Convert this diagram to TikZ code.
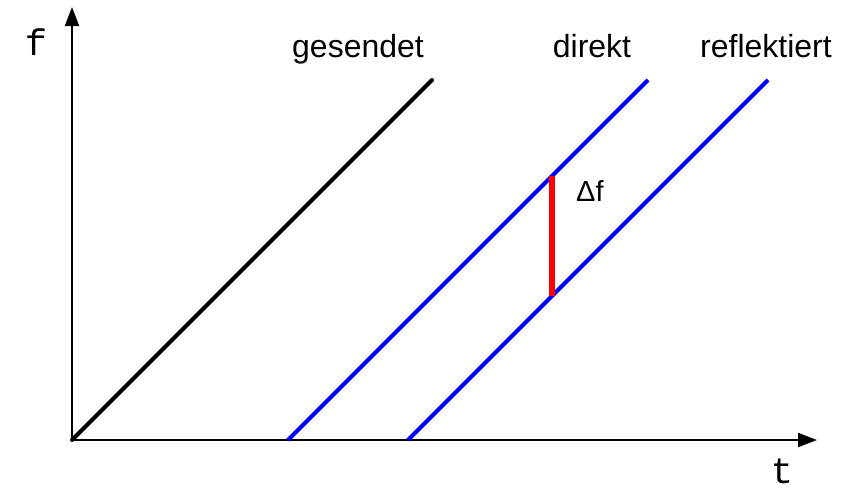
\documentclass[tikz,border=0pt]{standalone}
\usepackage{fontspec}
\setmainfont{Liberation Sans}
\newfontfamily\monof{Liberation Mono}
\usetikzlibrary{arrows.meta}
\tikzset{
  axis/.style={line width=2pt,-{Triangle[length=19pt,width=14pt]}},
  sent/.style={line width=4pt,black,line cap=round},
  echo/.style={line width=4pt,blue},
  deltaline/.style={line width=6.5pt,red},
  lbl/.style={inner sep=0pt,anchor=base,font=\fontsize{32}{38}\selectfont},
  axlbl/.style={inner sep=0pt,anchor=base,text depth=0pt,font=\monof\fontsize{37}{44}\selectfont},
}
\begin{document}
\begin{tikzpicture}[x=1pt,y=-1pt]
\useasboundingbox (0,0) rectangle (859,491);
\coordinate (o) at (72,440);
\coordinate (ytip) at (72,7);
\coordinate (xtip) at (817,440);
\coordinate (s1) at (72,440);
\coordinate (s2) at (432,80);
\coordinate (d1) at (288,440);
\coordinate (d2) at (648,80);
\coordinate (r1) at (408,440);
\coordinate (r2) at (768,80);
\coordinate (da) at (552,176);
\coordinate (db) at (552,296);
\draw[axis] (o) -- (ytip);
\draw[axis] (o) -- (xtip);
\draw[sent] (s1) -- (s2);
\draw[echo] (d1) -- (d2);
\draw[echo] (r1) -- (r2);
\draw[deltaline] (da) -- (db);
\node[axlbl] (fl) at (36,55) {f};
\node[axlbl] (tl) at (782,483) {t};
\node[lbl] (g) at (358,57) {gesendet};
\node[lbl] (dk) at (592,57) {direkt};
\node[lbl] (rf) at (766,57) {reflektiert};
\node[inner sep=0pt,anchor=base west,font=\fontsize{29}{34}\selectfont] (df) at (576,201) {Δf};
\end{tikzpicture}
\end{document}
